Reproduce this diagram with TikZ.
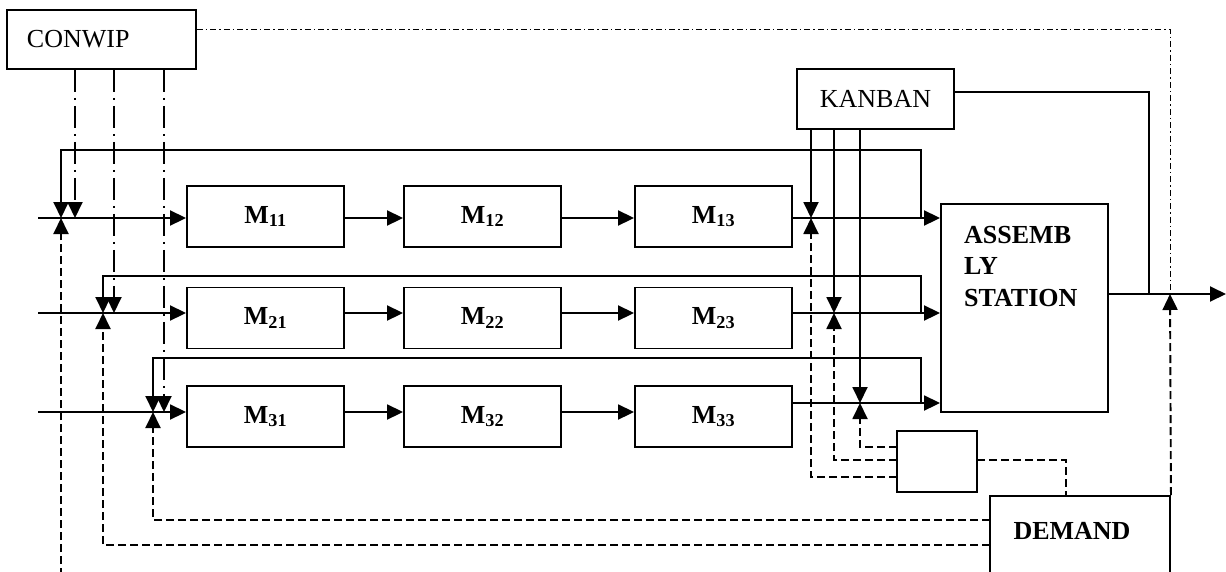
\documentclass[tikz,border=0pt]{standalone}
\usepackage{fontspec}
\setmainfont{Liberation Serif}
\usetikzlibrary{arrows.meta,positioning,calc}

\begin{document}
\begin{tikzpicture}[x=1pt,y=-1pt,
        every node/.style={font=\fontsize{26}{31.5}\selectfont},
        cbox/.style={draw,line width=1.9pt,inner sep=0pt},
        mbox/.style={cbox,minimum width=157pt,minimum height=61pt,
                     font=\fontsize{26}{31.5}\selectfont\bfseries},
        arr/.style={-{Triangle[length=16pt,width=15pt]},line width=1.9pt},
        thinline/.style={line width=1.3pt},
        dashdot/.style={line width=1.9pt,dash pattern=on 22pt off 6pt on 2pt off 6pt},
        dotdash/.style={line width=1pt,dash pattern=on 6pt off 3pt on 1.5pt off 3pt},
        sig/.style={line width=1.6pt,dash pattern=on 8pt off 4pt}
      ]
        \useasboundingbox (0,0) rectangle (1226,571);
        % control boxes
        \node[cbox,minimum height=59pt,text width=149pt,inner xsep=20pt,align=left]
              (conwip) at (101.5,39.5) {CONWIP};
        \node[cbox,minimum width=157pt,minimum height=60pt] (kanban) at (875.5,99) {KANBAN};
        \node[cbox,minimum width=167pt,minimum height=208pt] (asm) at (1024.5,308) {};
        \node[anchor=north west,align=left,inner sep=0pt,
              font=\fontsize{26}{31.5}\selectfont\bfseries] (asmtxt) at (964,226) {ASSEMB\\LY\\STATION};
        \node[cbox,minimum width=80pt,minimum height=61pt] (box) at (937,461.5) {};
        \node[cbox,minimum width=180pt,minimum height=110pt] (demand) at (1080,551) {};
        \node[font=\fontsize{26}{31.5}\selectfont\bfseries] (demandtxt) at (1072,531) {DEMAND};
        % machines
        \node[mbox] (m11) at (265.5,216.5) {M\textsubscript{11}};
        \node[mbox] (m12) at (482.5,216.5) {M\textsubscript{12}};
        \node[mbox] (m13) at (713.5,216.5) {M\textsubscript{13}};
        \node[mbox] (m21) at (265.5,318)   {M\textsubscript{21}};
        \node[mbox] (m22) at (482.5,318)   {M\textsubscript{22}};
        \node[mbox] (m23) at (713.5,318)   {M\textsubscript{23}};
        \node[mbox] (m31) at (265.5,416.5) {M\textsubscript{31}};
        \node[mbox] (m32) at (482.5,416.5) {M\textsubscript{32}};
        \node[mbox] (m33) at (713.5,416.5) {M\textsubscript{33}};
        % junction points
        \coordinate (in1) at (38,218);  \coordinate (in2) at (38,313);  \coordinate (in3) at (38,412);
        \coordinate (c1)  at (61,218);  \coordinate (c2)  at (103,313); \coordinate (c3)  at (153,412);
        \coordinate (w1)  at (75,218);  \coordinate (w2)  at (114,313); \coordinate (w3)  at (164,412);
        \coordinate (k1)  at (811,218); \coordinate (k2)  at (834,313); \coordinate (k3)  at (860,403);
        \coordinate (fb1) at (921,218); \coordinate (fb2) at (921,313); \coordinate (fb3) at (921,403);
        \coordinate (r3)  at (792,403);
        \coordinate (kout) at (1149,294); \coordinate (dout) at (1170,294); \coordinate (out) at (1226,294);
        \coordinate (cw)  at (1170,29);   \coordinate (d0) at (61,600);
        \coordinate (dl2) at (990,545);   \coordinate (dl3) at (990,520);
        \coordinate (bl1) at (897,477);   \coordinate (bl2) at (897,460);  \coordinate (bl3) at (897,447);
        \coordinate (br)  at (977,460);
        % material flow
        \draw[arr] (in1) -- (m11.west |- in1);
        \draw[arr] (in2) -- (m21.west |- in2);
        \draw[arr] (in3) -- (m31.west |- in3);
        \draw[arr] (m11.east |- in1) -- (m12.west |- in1);
        \draw[arr] (m12.east |- in1) -- (m13.west |- in1);
        \draw[arr] (m21.east |- in2) -- (m22.west |- in2);
        \draw[arr] (m22.east |- in2) -- (m23.west |- in2);
        \draw[arr] (m31.east |- in3) -- (m32.west |- in3);
        \draw[arr] (m32.east |- in3) -- (m33.west |- in3);
        \draw[arr] (m13.east |- in1) -- (asm.west |- in1);
        \draw[arr] (m23.east |- in2) -- (asm.west |- in2);
        \draw[arr] (r3) -- (asm.west |- r3);
        \draw[arr] (asm.east |- out) -- (out);
        % loops back to the inputs
        \draw[thinline,arr] (fb1) -- ++(0,-68) -| (c1);
        \draw[thinline,arr] (fb2) -- ++(0,-37) -| (c2);
        \draw[thinline,arr] (fb3) -- ++(0,-45) -| (c3);
        % conwip cards
        \draw[dashdot,arr] (conwip.south -| w1) -- (w1);
        \draw[dashdot,arr] (conwip.south -| w2) -- (w2);
        \draw[dashdot,arr] (conwip.south -| w3) -- (w3);
        \draw[dotdash] (conwip.east |- cw) -- (cw) -- (dout);
        % kanban cards
        \draw[arr] (kanban.south -| k1) -- (k1);
        \draw[arr] (kanban.south -| k2) -- (k2);
        \draw[arr] (kanban.south -| k3) -- (k3);
        \draw[thinline] ($(kanban.east)+(0,-7)$) -| (kout);
        % demand signals
        \draw[sig,arr] (d0) -- (c1);
        \draw[sig,arr] (dl2) -| (c2);
        \draw[sig,arr] (dl3) -| (c3);
        \draw[sig,arr] (bl1) -| (k1);
        \draw[sig,arr] (bl2) -| (k2);
        \draw[sig,arr] (bl3) -| (k3);
        \draw[sig] (br) -| (demand.north -| 1066,0);
        \draw[sig,arr] (demand.north east) -- (dout);
      \end{tikzpicture}
\end{document}
